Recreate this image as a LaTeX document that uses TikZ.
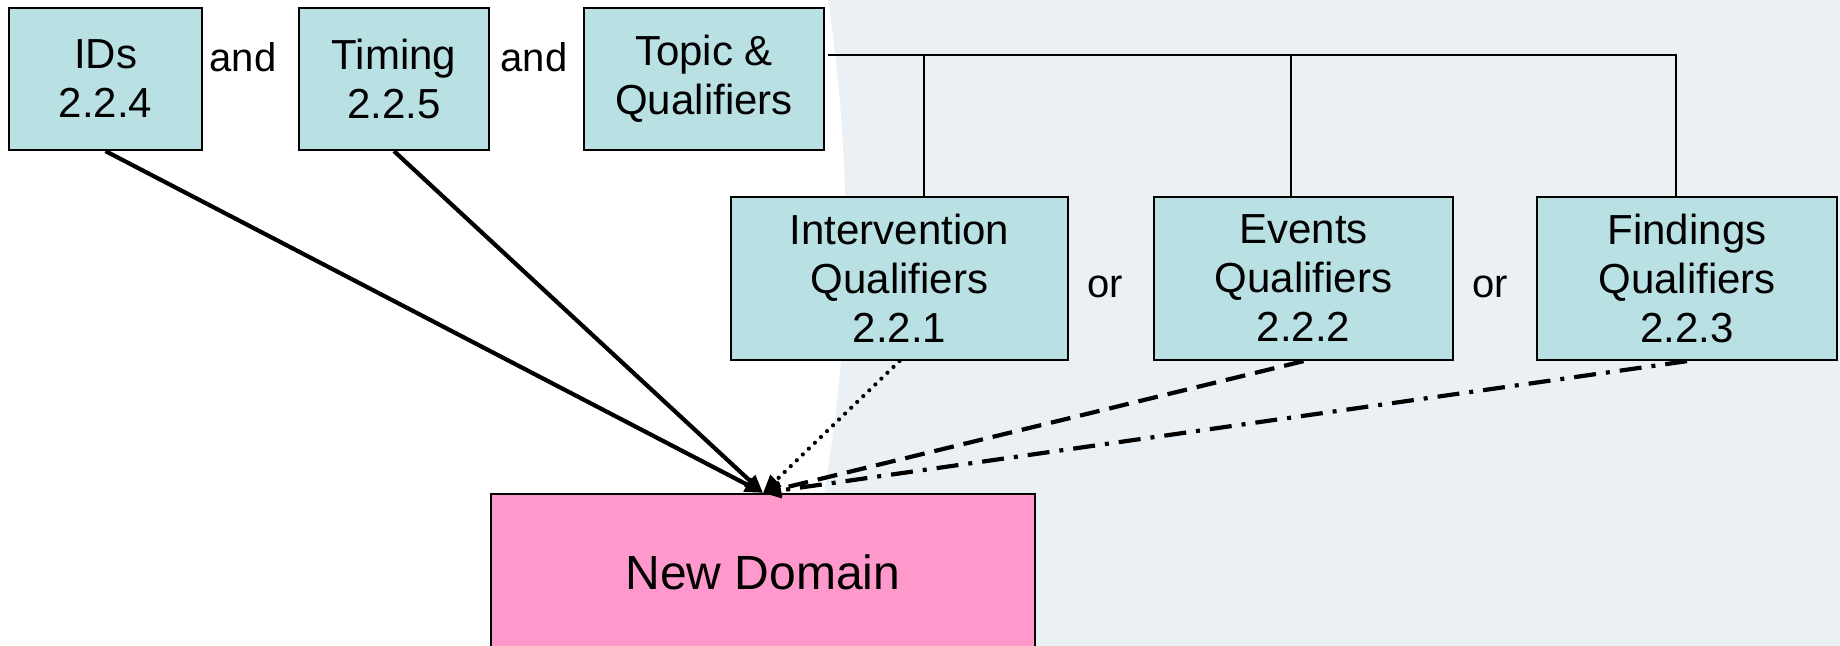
\documentclass[tikz,border=0pt]{standalone}
\usepackage{fontspec}
\setmainfont{Liberation Sans}
\usetikzlibrary{arrows.meta, calc}
\definecolor{cbox}{HTML}{B9E0E3}
\definecolor{cpink}{HTML}{FF99CC}
\definecolor{cback}{HTML}{EBF0F4}
\tikzset{
  every picture/.style={x=0.5pt, y=-0.5pt, line width=1.1pt},
  box/.style={draw=black, fill=#1, align=center, inner sep=0pt, font=\fontsize{21}{24.5}\selectfont},
  box/.default=cbox,
  arrow/.style={-{Triangle[length=9pt, width=7.5pt]}, line width=2.1pt},
  tree/.style={line width=0.8pt},
  note/.style={font=\fontsize{20}{24}\selectfont, inner sep=0pt},
}

\begin{document}
\begin{tikzpicture}
  \useasboundingbox (0,0) rectangle (1840,646);
  \clip (0,0) rectangle (1840,646);
  \fill[white] (0,0) rectangle (1840,646);
  \fill[cback] (828,0) .. controls (852,160) and (852,330) .. (826,480) -- (805,646) -- (1840,646) -- (1840,0) -- cycle;

  % what every new domain takes
  \node[box, minimum width=96.5pt, minimum height=71pt] (ids) at (105.5,79) {IDs\\2.2.4};
  \node[box, minimum width=95pt, minimum height=71pt] (timing) at (394,79) {Timing\\2.2.5};
  \node[box, minimum width=120pt, minimum height=71pt] (topic) at (704,79) {Topic \&\\Qualifiers};
  \node[note] (and1) at (243,57) {and};
  \node[note] (and2) at (534,57) {and};

  % one of the three general classes
  \node[box, minimum width=168.5pt, minimum height=81.5pt] (interv) at (899.5,278.5) {Intervention\\Qualifiers\\2.2.1};
  \node[box, minimum width=149.5pt, minimum height=81.5pt] (events) at (1303.5,278.5) {Events\\Qualifiers\\2.2.2};
  \node[box, minimum width=150pt, minimum height=81.5pt] (find) at (1687,278.5) {Findings\\Qualifiers\\2.2.3};
  \node[note] (or1) at (1105,287) {or};
  \node[note] (or2) at (1490,287) {or};

  \node[box=cpink, minimum width=272pt, minimum height=78pt, font=\fontsize{24}{28}\selectfont] (newdom) at (763,572) {New Domain};

  \coordinate (busL) at (828,55);
  \coordinate (busR) at (1676,55);
  \draw[tree] (busL) -- (busR) -- (busR |- find.north);
  \draw[tree] ($(interv.north)+(24.5,0)$) |- (busL);
  \draw[tree] ($(events.north)+(-12.5,0)$) |- (busL);

  \draw[arrow] (ids.south) -- (newdom.north);
  \draw[arrow] (timing.south) -- (newdom.north);
  \draw[arrow, line cap=round, dash pattern=on 0pt off 4.2pt] (interv.south) -- (newdom.north);
  \draw[arrow, dash pattern=on 10pt off 5pt] (events.south) -- (newdom.north);
  \draw[arrow, dash pattern=on 11pt off 5pt on 2pt off 5pt] (find.south) -- (newdom.north);
\end{tikzpicture}
\end{document}
